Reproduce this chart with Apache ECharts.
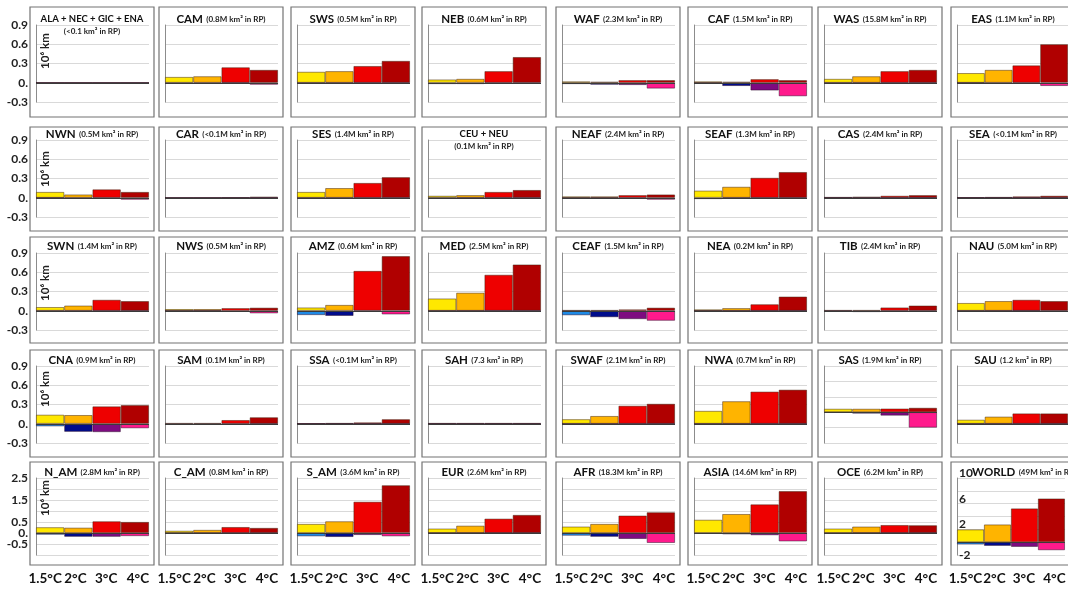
<!DOCTYPE html>
<html>
<head>
<meta charset="utf-8">
<script src="https://cdn.jsdelivr.net/npm/echarts@6/dist/echarts.min.js"></script>
<style>
  html, body { margin: 0; padding: 0; background: #fff; }
  #chart { width: 1068px; height: 590px; }
</style>
</head>
<body>
<div id="chart"></div>
<script>
// warming levels on every x axis
const warming = ['1.5°C', '2°C', '3°C', '4°C'];

// panels, row by row (8 per row)
const regionCodes = [
  'ALA + NEC + GIC + ENA', 'CAM', 'SWS', 'NEB', 'WAF', 'CAF', 'WAS', 'EAS',
  'NWN', 'CAR', 'SES', 'CEU + NEU', 'NEAF', 'SEAF', 'CAS', 'SEA',
  'SWN', 'NWS', 'AMZ', 'MED', 'CEAF', 'NEA', 'TIB', 'NAU',
  'CNA', 'SAM', 'SSA', 'SAH', 'SWAF', 'NWA', 'SAS', 'SAU',
  'N_AM', 'C_AM', 'S_AM', 'EUR', 'AFR', 'ASIA', 'OCE', 'WORLD'
];
const regionAreas = [
  '(<0.1 km² in RP)', '(0.8M km² in RP)', '(0.5M km² in RP)', '(0.6M km² in RP)', '(2.3M km² in RP)', '(1.5M km² in RP)', '(15.8M km² in RP)', '(1.1M km² in RP)',
  '(0.5M km² in RP)', '(<0.1M km² in RP)', '(1.4M km² in RP)', '(0.1M km² in RP)', '(2.4M km² in RP)', '(1.3M km² in RP)', '(2.4M km² in RP)', '(<0.1M km² in RP)',
  '(1.4M km² in RP)', '(0.5M km² in RP)', '(0.6M km² in RP)', '(2.5M km² in RP)', '(1.5M km² in RP)', '(0.2M km² in RP)', '(2.4M km² in RP)', '(5.0M km² in RP)',
  '(0.9M km² in RP)', '(0.1M km² in RP)', '(<0.1M km² in RP)', '(7.3 km² in RP)', '(2.1M km² in RP)', '(0.7M km² in RP)', '(1.9M km² in RP)', '(1.2 km² in RP)',
  '(2.8M km² in RP)', '(0.8M km² in RP)', '(3.6M km² in RP)', '(2.6M km² in RP)', '(18.3M km² in RP)', '(14.6M km² in RP)', '(6.2M km² in RP)', '(49M km² in RP)'
];

// 10^6 km, positive part (one row of 4 values per panel)
const gains = [
  [0, 0, 0, 0], [0.09, 0.1, 0.24, 0.2], [0.17, 0.18, 0.26, 0.34], [0.05, 0.06, 0.18, 0.4],
  [0.02, 0.015, 0.04, 0.04], [0.02, 0.015, 0.055, 0.04], [0.06, 0.1, 0.18, 0.2], [0.15, 0.2, 0.27, 0.6],
  [0.09, 0.05, 0.13, 0.09], [0, 0, 0.003, 0.015], [0.09, 0.15, 0.23, 0.32], [0.03, 0.04, 0.09, 0.12],
  [0.02, 0.02, 0.04, 0.05], [0.11, 0.17, 0.31, 0.4], [0.01, 0.015, 0.03, 0.04], [0.005, 0.01, 0.02, 0.03],
  [0.057, 0.08, 0.17, 0.15], [0.025, 0.025, 0.04, 0.047], [0.05, 0.09, 0.62, 0.85], [0.19, 0.28, 0.56, 0.72],
  [0.01, 0.01, 0.02, 0.047], [0.02, 0.04, 0.1, 0.22], [0.01, 0.01, 0.05, 0.08], [0.12, 0.15, 0.17, 0.15],
  [0.14, 0.135, 0.27, 0.29], [0.01, 0.01, 0.057, 0.1], [0.005, 0.01, 0.02, 0.07], [0.01, 0.01, 0.01, 0.01],
  [0.07, 0.12, 0.28, 0.31], [0.2, 0.35, 0.5, 0.53], [0.066, 0.066, 0.07, 0.085], [0.062, 0.11, 0.16, 0.16],
  [0.26, 0.24, 0.53, 0.5], [0.1, 0.14, 0.27, 0.23], [0.41, 0.53, 1.42, 2.17], [0.2, 0.33, 0.65, 0.82],
  [0.29, 0.41, 0.79, 0.94], [0.6, 0.86, 1.3, 1.9], [0.2, 0.29, 0.36, 0.35], [1.98, 2.75, 5.25, 6.8]
];
// negative part
const losses = [
  [0, 0, 0, 0], [-0.01, -0.01, -0.005, -0.03], [-0.005, -0.005, -0.005, -0.005], [-0.02, -0.02, -0.01, -0.01],
  [-0.02, -0.03, -0.035, -0.09], [-0.005, -0.05, -0.12, -0.21], [-0.005, -0.005, -0.005, -0.005], [0, -0.01, -0.01, -0.05],
  [0, -0.01, -0.01, -0.03], [0, 0, 0, 0], [-0.005, -0.005, -0.005, -0.005], [-0.01, -0.005, -0.005, -0.005],
  [-0.005, -0.005, -0.01, -0.03], [-0.02, -0.005, -0.005, -0.005], [0, 0, 0, 0], [0, 0, 0, 0],
  [-0.005, -0.005, -0.005, -0.005], [0, 0, -0.016, -0.04], [-0.067, -0.08, -0.01, -0.057], [0, 0, 0, 0],
  [-0.07, -0.1, -0.13, -0.155], [0, 0, 0, 0], [-0.01, -0.02, -0.01, -0.01], [0, 0, 0, -0.01],
  [-0.04, -0.125, -0.13, -0.07], [-0.015, -0.015, -0.01, -0.005], [0, 0, 0, 0], [0, 0, 0, 0],
  [0, 0, 0, 0], [0, 0, 0, 0], [-0.007, -0.026, -0.066, -0.3], [0, 0, 0, 0],
  [-0.076, -0.17, -0.17, -0.14], [-0.01, -0.01, -0.01, -0.01], [-0.15, -0.18, -0.09, -0.15], [0, 0, 0, 0],
  [-0.12, -0.17, -0.27, -0.45], [-0.03, -0.06, -0.1, -0.38], [-0.01, 0, 0, 0], [-0.36, -0.57, -0.73, -1.25]
];

// tick labels
const smallTicks = [-0.3, 0, 0.3, 0.6, 0.9];
const smallTickText = ['-0.3', '0.', '0.3', '0.6', '0.9'];
const contTicks = [-0.5, 0, 0.5, 1.5, 2.5];
const contTickText = ['-0.5', '0.', '0.5', '1.5', '2.5'];
const worldTicks = [-2, 2, 6, 10];
const worldTickText = ['{dn|-2}', '{up|2}', '{up|6}', '{up|10}'];

const gainColors = ['#FFE800', '#FFB400', '#EE0000', '#B00000'];
const lossColors = ['#1E8AE6', '#000C8C', '#7E0B80', '#FF1A8C'];

// layout
const colLeft = [30, 159, 291, 422, 556, 688, 818, 951];
const boxTop = [7, 127, 237, 350, 462];
const boxBottom = [117, 231, 343, 457, 565];
const plotTop = [25, 140, 253, 366, 478];
const titleY = [13, 128, 240, 354, 466];
const unitY = [51, 169, 283, 389, 498];
const FONT = 'Lato, "Open Sans", sans-serif';

function tickFormatter(ticks, texts) {
  return function (v) {
    for (let k = 0; k < ticks.length; k++) {
      if (Math.abs(v - ticks[k]) < 1e-6) return texts[k];
    }
    return '';
  };
}

// x labels spread a little, like the original
const xLabelStyle = { fontSize: 13.5, fontWeight: 'bold', color: '#111', fontFamily: FONT };
const xRich = {
  p0: Object.assign({ padding: [0, 10, 0, 0] }, xLabelStyle),
  p1: Object.assign({ padding: [0, 6, 0, 0] }, xLabelStyle),
  p2: Object.assign({ padding: [0, 1, 0, 0] }, xLabelStyle),
  p3: Object.assign({ padding: [0, 0, 0, 6] }, xLabelStyle)
};
const yLabelStyle = { fontSize: 12, fontWeight: 'bold', color: '#222', fontFamily: FONT };
const worldRich = {
  up: Object.assign({ padding: [0, 0, 10, 0] }, yLabelStyle),
  dn: Object.assign({ padding: [0, 0, 0, 0] }, yLabelStyle)
};

let grids = [], xAxes = [], yAxes = [], series = [], graphics = [];

regionCodes.forEach(function (code, i) {
  const r = Math.floor(i / 8), c = i % 8;
  const left = colLeft[c];
  const isWorld = code === 'WORLD';
  grids.push({ left: left + 6, top: plotTop[r], width: 113, height: 77 });

  xAxes.push({
    type: 'category', gridIndex: i, data: warming,
    axisLine: { show: false, onZero: false }, axisTick: { show: false },
    axisLabel: {
      show: r === 4, margin: 17, interval: 0, rich: xRich,
      formatter: function (v, idx) { return '{p' + idx + '|' + v + '}'; }
    }
  });

  let y = { type: 'value', gridIndex: i, min: -0.3, max: 0.9, interval: 0.3 };
  let fmt = tickFormatter(smallTicks, smallTickText);
  if (code === 'SAS') { y.min = -0.6; }
  if (r === 4) { y.min = -1; y.max = 2.5; y.interval = 0.5; fmt = tickFormatter(contTicks, contTickText); }
  if (isWorld) { y.min = -2; y.max = 10; y.interval = 2; fmt = tickFormatter(worldTicks, worldTickText); }
  y.axisLine = { show: true, lineStyle: { color: '#8c8c8c', width: 1 } };
  y.axisTick = { show: false };
  y.splitLine = { lineStyle: { color: '#d9d9d9', width: 1 } };
  y.axisLabel = Object.assign({
    show: c === 0 || isWorld, inside: isWorld, margin: isWorld ? 2 : 8,
    formatter: fmt, rich: worldRich
  }, yLabelStyle);
  yAxes.push(y);

  const barCommon = {
    type: 'bar', xAxisIndex: i, yAxisIndex: i, barWidth: '100%', barGap: '-100%',
    silent: true, animation: false
  };
  series.push(Object.assign({}, barCommon, {
    data: gains[i].map(function (v, k) {
      return { value: v, itemStyle: { color: gainColors[k], borderColor: 'rgba(60,30,10,0.6)', borderWidth: 0.8 } };
    }),
    markLine: {
      silent: true, symbol: 'none', label: { show: false }, animation: false,
      lineStyle: { color: '#3a3a3a', width: 1, type: 'solid' }, data: [{ yAxis: 0 }]
    }
  }));
  series.push(Object.assign({}, barCommon, {
    data: losses[i].map(function (v, k) {
      return { value: v, itemStyle: { color: lossColors[k], borderColor: 'rgba(40,10,40,0.6)', borderWidth: 0.8 } };
    })
  }));

  // panel frame
  graphics.push({
    type: 'rect', silent: true,
    shape: { x: left, y: boxTop[r], width: 124, height: boxBottom[r] - boxTop[r] },
    style: { fill: 'none', stroke: '#737373', lineWidth: 1.2 }
  });

  // panel title
  const multi = code.indexOf('+') >= 0;
  graphics.push({
    type: 'text', silent: true, z: 10,
    x: left + 62 + (isWorld ? 11 : 0), y: titleY[r],
    style: {
      text: multi ? '{c|' + code + '}\n{b|' + regionAreas[i] + '}' : '{a|' + code + '} {b|' + regionAreas[i] + '}',
      align: 'center', verticalAlign: 'top', fill: '#111',
      rich: {
        a: { fontSize: 11.5, fontWeight: 'bold', fontFamily: FONT, fill: '#111' },
        c: { fontSize: 9.5, fontWeight: 'bold', fontFamily: FONT, fill: '#111', lineHeight: 12 },
        b: { fontSize: 8, fontWeight: 'bold', fontFamily: FONT, fill: '#222', lineHeight: 12 }
      }
    }
  });

  // unit label in the first column
  if (c === 0) {
    graphics.push({
      type: 'text', silent: true, z: 10, x: 45, y: unitY[r], rotation: Math.PI / 2,
      style: { text: '10⁶ km', align: 'center', verticalAlign: 'middle', fontSize: 11.5, fontWeight: 'bold', fontFamily: 'Lato, "DejaVu Sans", sans-serif', fill: '#222' }
    });
  }
});

const chart = echarts.init(document.getElementById('chart'), null, { renderer: 'canvas' });
chart.setOption({
  animation: false,
  backgroundColor: '#fff',
  grid: grids,
  xAxis: xAxes,
  yAxis: yAxes,
  series: series,
  graphic: graphics
});
</script>
</body>
</html>
